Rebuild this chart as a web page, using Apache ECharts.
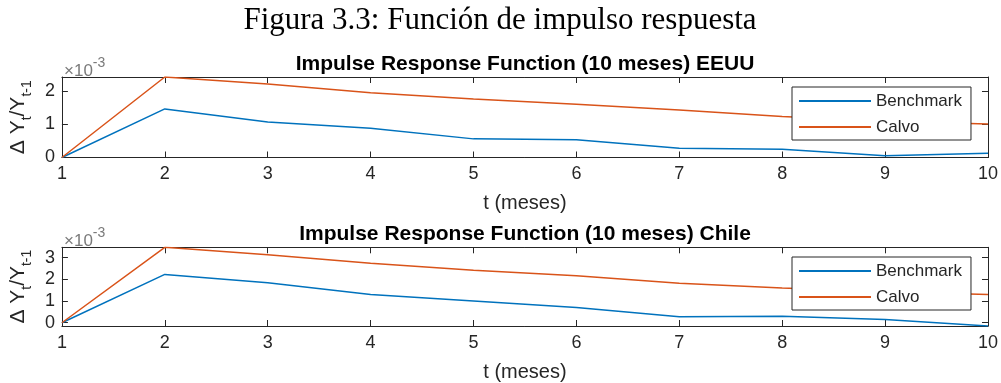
<!DOCTYPE html>
<html><head><meta charset="utf-8">
<script src="https://cdn.jsdelivr.net/npm/echarts@6/dist/echarts.min.js"></script>
<style>html,body{margin:0;padding:0;background:#fff}#c{width:1001px;height:383px}</style>
</head><body><div id="c"></div>
<script>
// Data (values are in absolute units; axis shows ×10^-3)
const t = [1, 2, 3, 4, 5, 6, 7, 8, 9, 10];
const eeuuBenchmark = [0, 0.00146, 0.00107, 0.00088, 0.00056, 0.00053, 0.00028, 0.00025, 0.00005, 0.00013];
const eeuuCalvo     = [0, 0.00242, 0.00221, 0.00195, 0.00176, 0.00160, 0.00143, 0.00123, 0.00109, 0.00101];
const chileBenchmark = [0, 0.00223, 0.00184, 0.00130, 0.00100, 0.00070, 0.00028, 0.00030, 0.00015, -0.00015];
const chileCalvo     = [0, 0.00348, 0.00314, 0.00274, 0.00242, 0.00217, 0.00182, 0.00160, 0.00143, 0.00130];
const eeuuTicks = [0, 0.001, 0.002];
const chileTicks = [0, 0.001, 0.002, 0.003];
const seriesNames = ['Benchmark', 'Calvo'];
const panelTitles = ['Impulse Response Function (10 meses) EEUU', 'Impulse Response Function (10 meses) Chile'];
const figTitle = 'Figura 3.3: Función de impulso respuesta';
const xName = 't (meses)';

const blue = '#0072BD', orange = '#D95319', ax = '#262626';
const sans = 'Liberation Sans';
const pairs = (ys) => t.map((x, i) => [x, ys[i]]);

const grids = [
  {left: 60, right: 11, top: 77, height: 80.5},
  {left: 60, right: 11, top: 247.3, height: 80.4}
];

function xAxes(gi) {
  const base = {gridIndex: gi, type: 'value', min: 1, max: 10, interval: 1,
    axisLine: {show: true, onZero: false, lineStyle: {color: ax, width: 1}},
    axisTick: {show: true, inside: true, length: 6, lineStyle: {color: ax}},
    splitLine: {show: false}};
  return [
    Object.assign({}, base, {position: 'bottom',
      axisLabel: {show: true, color: ax, fontFamily: sans, fontSize: 18, margin: 8},
      name: xName, nameLocation: 'middle', nameGap: 36,
      nameTextStyle: {color: ax, fontFamily: sans, fontSize: 20}}),
    Object.assign({}, base, {position: 'top', axisLabel: {show: false}})
  ];
}
function yAxes(gi, ys, ticks) {
  const all = ys.flat();
  const mn = Math.min(...all), mx = Math.max(...all);
  const base = {gridIndex: gi, type: 'value', min: mn, max: mx,
    axisLine: {show: true, onZero: false, lineStyle: {color: ax, width: 1}},
    axisTick: {show: true, inside: true, length: 6, customValues: ticks, lineStyle: {color: ax}},
    splitLine: {show: false}};
  return [
    Object.assign({}, base, {position: 'left',
      axisLabel: {show: true, customValues: ticks, color: ax, fontFamily: sans, fontSize: 18, margin: 7,
        formatter: v => String(Math.round(v * 1000))},
      name: '{a|Δ Y}{s|t}{a|/Y}{s|t-1}', nameLocation: 'middle', nameRotate: 90, nameGap: 26,
      nameTextStyle: {color: ax, fontFamily: sans, rich: {
        a: {fontSize: 21, lineHeight: 22, verticalAlign: 'top', color: ax, fontFamily: sans},
        s: {fontSize: 14, lineHeight: 14, padding: [12, 0, 0, 0], verticalAlign: 'top', color: ax, fontFamily: sans}
      }}}),
    Object.assign({}, base, {position: 'right', axisLabel: {show: false}})
  ];
}
const expRich = {
  b: {fontSize: 17, lineHeight: 18, padding: [7, 0, 0, 0], verticalAlign: 'top', color: '#7a7a7a', fontFamily: sans, fontWeight: 'normal'},
  e: {fontSize: 14, lineHeight: 14, verticalAlign: 'top', color: '#7a7a7a', fontFamily: sans, fontWeight: 'normal'}
};

const option = {
  animation: false,
  backgroundColor: '#fff',
  title: [
    {text: figTitle, left: 495, top: 0, textAlign: 'center',
      textStyle: {fontFamily: 'Liberation Serif', fontWeight: 'normal', fontSize: 31, color: '#000'}},
    {text: panelTitles[0], left: 520, top: 49, textAlign: 'center',
      textStyle: {fontFamily: sans, fontWeight: 'bold', fontSize: 21, color: '#000'}},
    {text: panelTitles[1], left: 520, top: 219, textAlign: 'center',
      textStyle: {fontFamily: sans, fontWeight: 'bold', fontSize: 21, color: '#000'}},
    {text: '{b|×10}{e|-3}', left: 59, top: 51, textStyle: {fontWeight: 'normal', rich: expRich}},
    {text: '{b|×10}{e|-3}', left: 59, top: 221, textStyle: {fontWeight: 'normal', rich: expRich}}
  ],
  grid: grids,
  xAxis: [...xAxes(0), ...xAxes(1)],
  yAxis: [...yAxes(0, [eeuuBenchmark, eeuuCalvo], eeuuTicks), ...yAxes(1, [chileBenchmark, chileCalvo], chileTicks)],
  legend: [0, 1].map(i => ({
    orient: 'vertical', left: 792, top: i === 0 ? 87 : 257,
    data: seriesNames, icon: 'rect', itemWidth: 72, itemHeight: 2, itemGap: 0,
    padding: [1, 9, 0, 7], borderColor: ax, borderWidth: 1, backgroundColor: '#fff',
    textStyle: {fontFamily: sans, fontSize: 17, color: ax, lineHeight: 26},
    selectedMode: false
  })),
  series: [
    {name: seriesNames[0], type: 'line', xAxisIndex: 0, yAxisIndex: 0, data: pairs(eeuuBenchmark), symbol: 'none', lineStyle: {color: blue, width: 1.5}, itemStyle: {color: blue}, z: 2},
    {name: seriesNames[1], type: 'line', xAxisIndex: 0, yAxisIndex: 0, data: pairs(eeuuCalvo), symbol: 'none', lineStyle: {color: orange, width: 1.5}, itemStyle: {color: orange}, z: 2},
    {name: seriesNames[0], type: 'line', xAxisIndex: 2, yAxisIndex: 2, data: pairs(chileBenchmark), symbol: 'none', lineStyle: {color: blue, width: 1.5}, itemStyle: {color: blue}, z: 2},
    {name: seriesNames[1], type: 'line', xAxisIndex: 2, yAxisIndex: 2, data: pairs(chileCalvo), symbol: 'none', lineStyle: {color: orange, width: 1.5}, itemStyle: {color: orange}, z: 2}
  ]
};
const chart = echarts.init(document.getElementById('c'), null, {renderer: 'canvas'});
chart.setOption(option);
</script></body></html>
